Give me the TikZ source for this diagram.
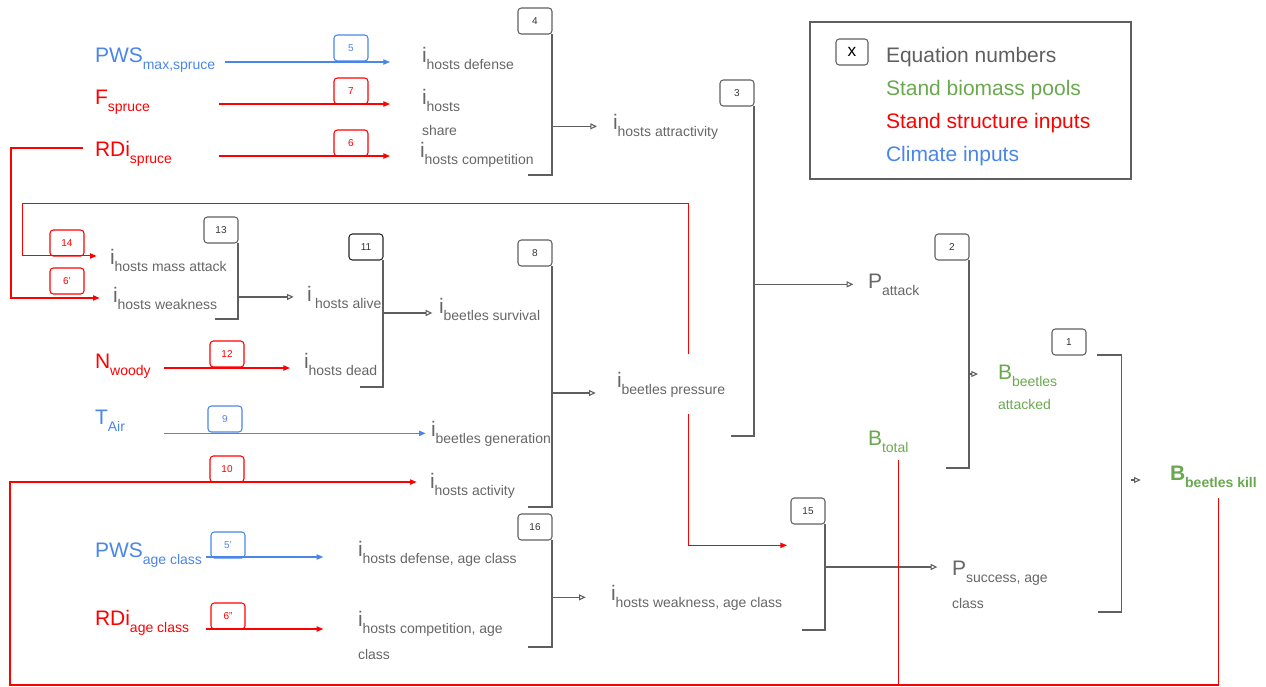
\documentclass[tikz,border=0pt]{standalone}
\usepackage{fontspec}
\setmainfont{Liberation Sans}
\usepackage{xcolor}
\usetikzlibrary{arrows.meta,positioning}

\definecolor{txtgrey}{HTML}{666666}
\definecolor{lngrey}{HTML}{5F5F5F}
\definecolor{inred}{HTML}{FF0000}
\definecolor{inblue}{HTML}{4A86E8}
\definecolor{poolgreen}{HTML}{6AA84F}

\newcommand{\mainf}{\fontsize{15.75}{19}\selectfont}
\newcommand{\subf}{\fontsize{10.5}{12.6}\selectfont}
\newcommand{\ix}[2]{{\mainf #1}\raisebox{-5.25pt}{\subf #2}}

\begin{document}
\begin{tikzpicture}[x=0.75pt,y=-0.75pt,
    lbl/.style={anchor=base west,inner sep=0pt,outer sep=0pt,text=txtgrey,align=left},
    redlbl/.style={lbl,text=inred},
    bluelbl/.style={lbl,text=inblue},
    poollbl/.style={lbl,text=poolgreen},
    eqbox/.style={draw=lngrey,line width=0.8pt,rounded corners=2.5pt,anchor=south west,
        minimum width=25.5pt,minimum height=19.5pt,inner sep=0pt,outer sep=0pt,
        text=black!80,font=\fontsize{7.5}{9}\selectfont},
    redbox/.style={eqbox,draw=inred,text=inred},
    bluebox/.style={eqbox,draw=inblue,text=inblue},
    brk/.style={draw=lngrey,line width=0.8pt},
    garrow/.style={draw=lngrey,line width=0.8pt,-{Triangle[open,length=5pt,width=4.5pt]}},
    redarrow/.style={draw=inred,line width=0.8pt,-{Triangle[length=5pt,width=4pt]}},
    bluearrow/.style={draw=inblue,line width=0.8pt,-{Triangle[length=5pt,width=4pt]}},
    redline/.style={draw=inred,line width=0.8pt}]

\useasboundingbox (0,0) rectangle (1266,686);

% legend
\draw[draw=lngrey,line width=0.8pt] (810,22) rectangle (1131,179);
\node[eqbox,minimum width=24pt,text=black,font=\fontsize{13}{15}\selectfont] (ex) at (836,65) {x};
\node[lbl,text=lngrey] (leg1) at (886,62) {\mainf Equation numbers};
\node[poollbl] (leg2) at (886,95) {\mainf Stand biomass pools};
\node[redlbl] (leg3) at (886,128) {\mainf Stand structure inputs};
\node[bluelbl] (leg4) at (886,161) {\mainf Climate inputs};

% labels (two-line ones sit on their last line)
\node[bluelbl] (pws) at (95,62) {\ix{PWS}{max,spruce}};
\node[redlbl] (fsp) at (95,104) {\ix{F}{spruce}};
\node[redlbl] (rdi) at (95,156) {\ix{RDi}{spruce}};
\node[redlbl] (nwd) at (95,368) {\ix{N}{woody}};
\node[bluelbl] (tair) at (95,424) {\ix{T}{Air}};
\node[bluelbl] (pwsa) at (95,557) {\ix{PWS}{age class}};
\node[redlbl] (rdia) at (95,625) {\ix{RDi}{age class}};

\node[lbl] (def) at (422,62) {\ix{i}{hosts defense}};
\node[lbl] (shr) at (422,135) {\ix{i}{hosts}\\[9pt]{\subf share}};
\node[lbl] (comp) at (420,157) {\ix{i}{hosts competition}};
\node[lbl] (attr) at (613,129) {\ix{i}{hosts attractivity}};
\node[lbl] (mass) at (110,264) {\ix{i}{hosts mass attack}};
\node[lbl] (weak) at (113,302) {\ix{i}{hosts weakness}};
\node[lbl] (alive) at (307,301) {\ix{i\,}{hosts alive}};
\node[lbl] (dead) at (304,368) {\ix{i}{hosts dead}};
\node[lbl] (surv) at (439,313) {\ix{i}{beetles survival}};
\node[lbl] (gen) at (431,436) {\ix{i}{beetles generation}};
\node[lbl] (act) at (430,488) {\ix{i}{hosts activity}};
\node[lbl,inner ysep=13pt] (bp) at (617,387) {\ix{i}{beetles pressure}};
\node[lbl] (defa) at (358,556) {\ix{i}{hosts defense, age class}};
\node[lbl] (compa) at (358,659) {\ix{i}{hosts competition, age}\\[8pt]{\subf class}};
\node[lbl] (wka) at (611,600) {\ix{i}{hosts weakness, age class}};
\node[lbl] (patt) at (868,288) {\ix{P}{attack}};
\node[lbl] (psucc) at (952,608) {\ix{P}{success, age}\\[8pt]{\subf class}};
\node[poollbl] (btot) at (868,445) {\ix{B}{total}};
\node[poollbl] (batt) at (998,409) {\ix{B}{beetles}\\[8pt]{\subf attacked}};
\node[poollbl,font=\bfseries] (bkill) at (1170,480) {\ix{B}{beetles kill}};

% input equations
\node[bluebox] (e5) at (334,61) {5};
\node[redbox] (e7) at (334,104) {7};
\node[redbox] (e6) at (334,156) {6};
\node[redbox] (e14) at (50,256) {14};
\node[redbox] (e6p) at (50,294) {6'};
\node[redbox] (e12) at (210,367) {12};
\node[bluebox] (e9) at (208,432) {9};
\node[redbox] (e10) at (210,482) {10};
\node[bluebox] (e5p) at (211,558) {5'};
\node[redbox] (e6pp) at (211,629) {6''};

\draw[bluearrow] ([xshift=7pt]pws.base east) -- ([xshift=-24pt]pws.base -| def.west);
\draw[redarrow] ([xshift=3pt]fsp.base -| pws.east) -- ([xshift=-24pt]fsp.base -| shr.west);
\draw[redarrow] ([xshift=3pt]rdi.base -| pws.east) -- ([xshift=-22.5pt]rdi.base -| comp.west);
\draw[redarrow] ([xshift=-9pt,yshift=4pt]rdi.west) -- ++(-72,0) |- ([xshift=-10pt]weak.west);
\draw[redarrow] ([xshift=10pt]nwd.base east) -- ([xshift=-10.5pt]nwd.base -| dead.west);
\draw[bluearrow] ([xshift=10pt]gen.west -| nwd.east) -- ([xshift=-4pt]gen.west);
\draw[bluearrow] ([xshift=3pt]pwsa.base east) -- ([xshift=-26pt]pwsa.base -| defa.west);
\draw[redarrow] ([xshift=3pt,yshift=-3pt]rdia.base -| pwsa.east) -- ([xshift=-26pt,yshift=-3pt]rdia.base -| compa.west);

% feedback from beetles pressure
\draw[redarrow] ([xshift=13pt]bp.north) -- ++(0,-151) -- ++(-666,0) |- ([xshift=-10pt,yshift=3pt]mass.west);

% brackets
\node[eqbox] (e4) at (518,34) {4};
\draw[brk] (e4.south east) -- ++(0,141) -- ++(-24,0);
\draw[garrow] (e4.south east |- attr.west) -- ([xshift=-12pt]attr.west);

\node[eqbox] (e3) at (720,106) {3};
\draw[brk] (e3.south east) -- ++(0,330) -- ++(-23,0);
\draw[garrow] (e3.south east |- patt.west) -- ([xshift=-11pt]patt.west);

\node[eqbox] (e13) at (204,243) {13};
\draw[brk] (e13.south east) -- ++(0,76) -- ++(-23,0);
\draw[garrow] (e13.south east |- alive.west) -- ([xshift=-10pt]alive.west);

\node[eqbox,draw=black!85] (e11) at (349,260) {11};
\draw[brk] (e11.south east) -- ++(0,127) -- ++(-23,0);
\draw[garrow] (e11.south east |- surv.base) -- ([xshift=-5pt]surv.base west);

\node[eqbox] (e8) at (518,266) {8};
\draw[brk] (e8.south east) -- ++(0,241) -- ++(-24,0);
\draw[garrow] ([yshift=-4.5pt]e8.south east |- bp.base) -- ([xshift=-16pt,yshift=-4.5pt]bp.base west);

\node[eqbox] (e16) at (518,540) {16};
\draw[brk] (e16.south east) -- ++(0,107) -- ++(-24,0);
\draw[garrow] (e16.south east |- wka.west) -- ([xshift=-19pt]wka.west);

\node[eqbox] (e15) at (791,524) {15};
\draw[brk] (e15.south east) -- ++(0,106) -- ++(-23,0);
\draw[garrow] ([yshift=30.75pt]e15.south east |- psucc.base) -- ([xshift=-11pt,yshift=30.75pt]psucc.base west);
\draw[redarrow] ([xshift=13pt]bp.south) |- ([xshift=-3pt,yshift=-16pt]e15.south west);

\node[eqbox] (e2) at (935,260) {2};
\draw[brk] (e2.south east) -- ++(0,208) -- ++(-23,0);
\draw[garrow] ([yshift=26.25pt]e2.south east |- batt.base) -- ([xshift=-15pt,yshift=26.25pt]batt.base west);

\node[eqbox] (e1) at (1052,355) {1};
\draw[brk] ([xshift=8pt]e1.south east) -- ++(25,0) -- ++(0,257) -- ++(-24,0);
\draw[garrow] ([xshift=-29pt]bkill.base west) -- ([xshift=-22pt]bkill.base west);

% biomass loop back to hosts activity
\coordinate (loopcorner) at (10,685);
\draw[redarrow] ([xshift=3.5pt,yshift=-8pt]bkill.south) |- (loopcorner) |- ([xshift=-10pt,yshift=2.5pt]act.west);
\draw[redline] ([xshift=8pt,yshift=-6pt]btot.south) -- ([xshift=8pt]btot.south |- loopcorner);

\end{tikzpicture}
\end{document}
